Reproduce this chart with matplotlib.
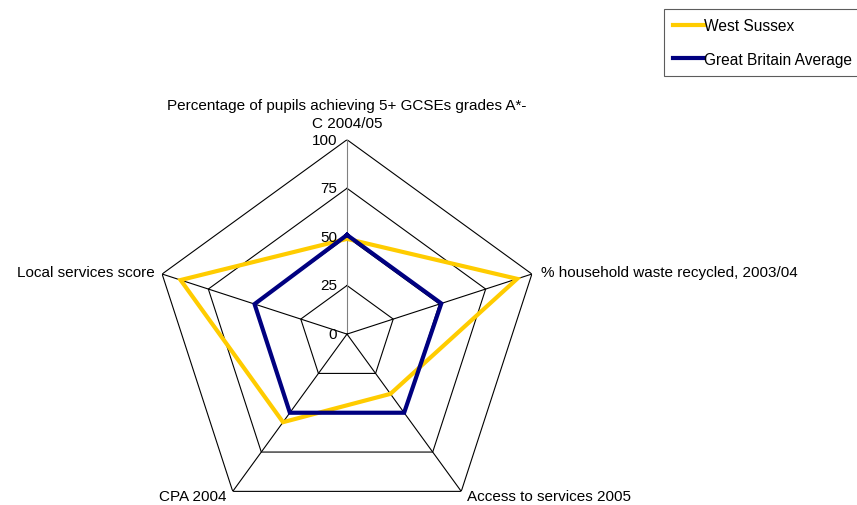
import numpy as np
import matplotlib
matplotlib.use("Agg")
import matplotlib.pyplot as plt
from matplotlib.lines import Line2D

plt.rcParams['font.family'] = ['Liberation Sans', 'DejaVu Sans']

categories = ["Percentage of pupils achieving 5+ GCSEs grades A*-\nC 2004/05",
              "% household waste recycled, 2003/04",
              "Access to services 2005",
              "CPA 2004",
              "Local services score"]
west_sussex = [49, 92, 38, 56, 90]
gb_average = [51, 51, 50, 50, 50]
ring_levels = [25, 50, 75, 100]
tick_labels = ["0", "25", "50", "75", "100"]

W, H = 857, 506
fig = plt.figure(figsize=(W / 100, H / 100), dpi=100)
cx, cy, R = 347, 335.1, 194.4
ax = fig.add_axes([(cx - R) / W, (H - cy - R) / H, 2 * R / W, 2 * R / H], projection='polar')
ax.set_theta_offset(np.pi / 2)
ax.set_theta_direction(-1)
ax.set_ylim(0, 100)
ax.grid(False)
ax.set_xticks([])
ax.set_yticks([])
ax.spines['polar'].set_visible(False)
ax.patch.set_alpha(0)

n = len(categories)
theta = np.arange(n) * 2 * np.pi / n
theta_c = np.append(theta, theta[0])

# rings
for lv in ring_levels:
    ax.plot(theta_c, [lv] * (n + 1), color='black', lw=0.8, zorder=1)
# spokes
for i, t in enumerate(theta):
    ax.plot([t, t], [0, 100], color='#808080' if i == 0 else 'black', lw=0.8, zorder=1)

ws_c = west_sussex + west_sussex[:1]
gb_c = gb_average + gb_average[:1]
ax.plot(theta_c, ws_c, color='#FFCC00', lw=3, zorder=3, solid_joinstyle='miter')
ax.plot(theta_c, gb_c, color='#000080', lw=3, zorder=4, solid_joinstyle='miter')

fs = 11
for lv, lab in zip([0] + ring_levels, tick_labels):
    ax.annotate(lab, (0, lv), xytext=(-10, 0), textcoords='offset pixels',
                ha='right', va='center', fontsize=fs, annotation_clip=False)

offsets = [((0, 10), 'center', 'bottom'),
           ((9, 2), 'left', 'center'),
           ((6, -5), 'left', 'center'),
           ((-6, -5), 'right', 'center'),
           ((-7, 2), 'right', 'center')]
for t, lab, (off, ha, va) in zip(theta, categories, offsets):
    ax.annotate(lab, (t, 100), xytext=off, textcoords='offset pixels',
                ha=ha, va=va, fontsize=fs, linespacing=1.35, multialignment='center',
                annotation_clip=False)

handles = [Line2D([], [], color='#FFCC00', lw=3), Line2D([], [], color='#000080', lw=3)]
leg = fig.legend(handles, ["West Sussex", "Great Britain Average"], loc='upper left',
                 bbox_to_anchor=(664 / W, 1 - 10 / H), fontsize=11.2, frameon=True,
                 fancybox=False, edgecolor='#333333', handlelength=2.0, handletextpad=0.0,
                 labelspacing=1.18, borderpad=0.6, borderaxespad=0)
leg.get_frame().set_linewidth(0.8)

fig.savefig("out.png", dpi=100)
